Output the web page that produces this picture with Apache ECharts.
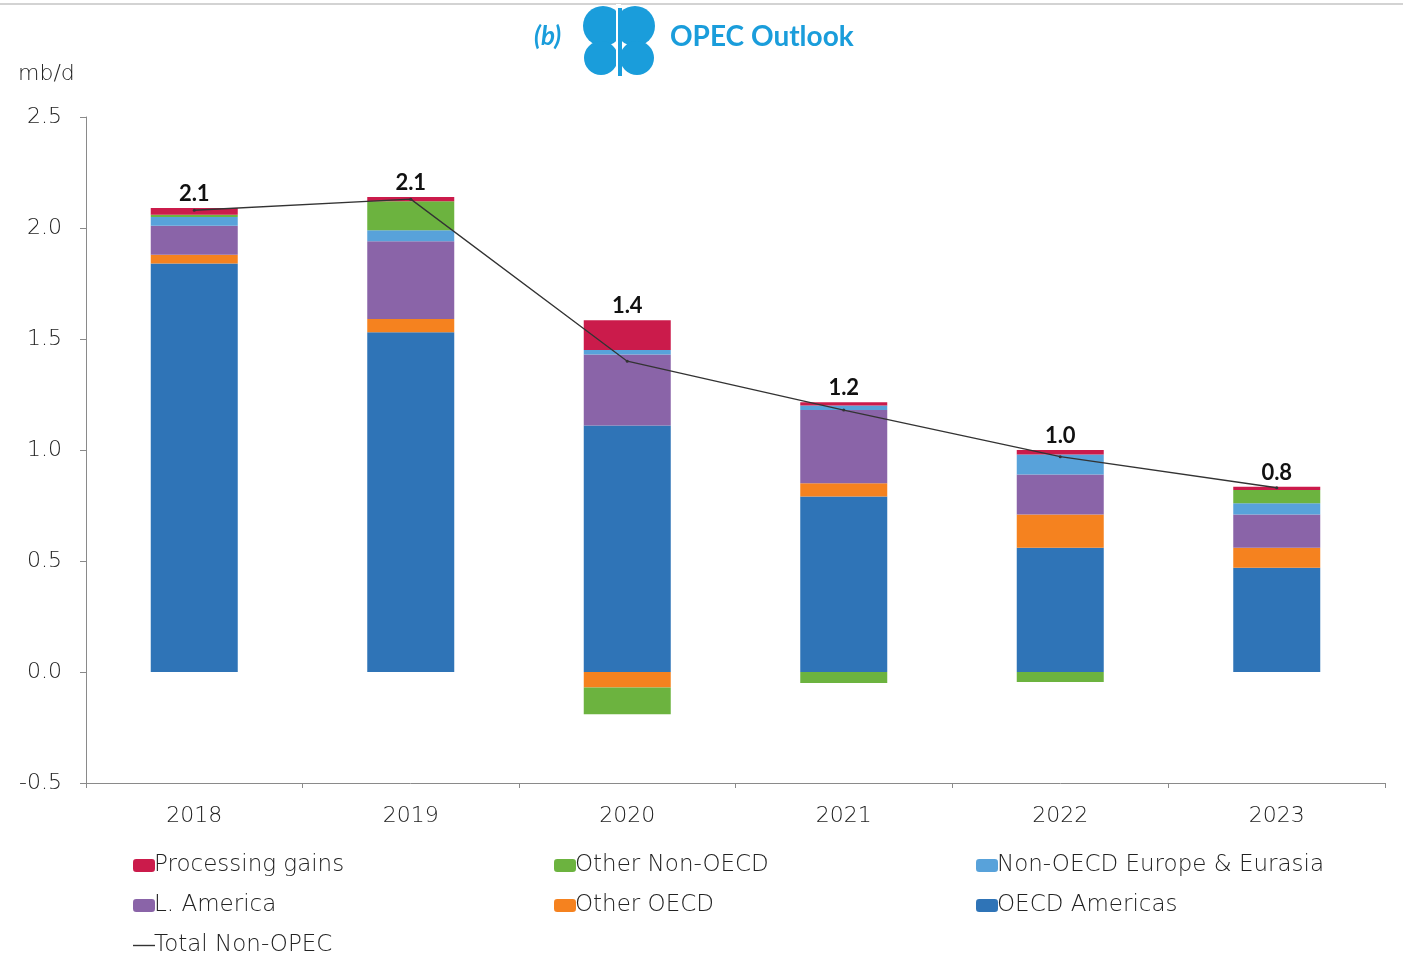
<!DOCTYPE html>
<html>
<head>
<meta charset="utf-8">
<script src="https://cdn.jsdelivr.net/npm/echarts@6/dist/echarts.min.js"></script>
<style>
  html, body { margin: 0; padding: 0; background: #fff; }
  #main { width: 1403px; height: 959px; }
</style>
</head>
<body>
<div id="main"></div>
<script>
// data (mb/d)
var years = ['2018', '2019', '2020', '2021', '2022', '2023'];
var oecdAmericas = [1.84, 1.53, 1.11, 0.79, 0.56, 0.47];
var otherOecd = [0.04, 0.06, -0.07, 0.06, 0.15, 0.09];
var lAmerica = [0.13, 0.35, 0.32, 0.33, 0.18, 0.15];
var nonOecdEurope = [0.04, 0.05, 0.02, 0.02, 0.09, 0.05];
var otherNonOecd = [0.01, 0.13, -0.12, -0.05, -0.045, 0.06];
var processingGains = [0.03, 0.02, 0.135, 0.015, 0.02, 0.015];
var totalNonOpec = [2.08, 2.13, 1.40, 1.18, 0.97, 0.83];

var yTicks = [-0.5, 0, 0.5, 1.0, 1.5, 2.0, 2.5];

var colors = {
  oecdAm: '#2f74b7',
  otherOecd: '#f5821f',
  lAm: '#8a64a8',
  nonOecdEu: '#58a2da',
  otherNonOecd: '#6cb33f',
  proc: '#cb1b4b'
};

var font = '"DejaVu Sans", sans-serif';
var labelFont = 'Lato, sans-serif';

function barSeries(name, data, color) {
  return {
    name: name,
    type: 'bar',
    stack: 'total',
    barWidth: 87,
    itemStyle: { color: color },
    data: data
  };
}

function legendAt(left, top, names) {
  return {
    left: left, top: top, orient: 'vertical', itemGap: 17,
    itemWidth: 22, itemHeight: 13,
    textStyle: { fontFamily: font, fontWeight: 200, fontSize: 23, color: '#222', padding: [0, 0, 0, -6] },
    data: names
  };
}

var myChart = echarts.init(document.getElementById('main'));
var procSeries = barSeries('Processing gains', processingGains, colors.proc);
procSeries.label = {
  show: true,
  position: 'top',
  distance: 3,
  color: '#111',
  fontFamily: labelFont,
  fontWeight: 'bold',
  fontSize: 22,
  formatter: function (p) { return totalNonOpec[p.dataIndex].toFixed(1); }
};

var option = {
  backgroundColor: '#fff',
  animation: false,
  grid: { left: 86, top: 117, width: 1299, height: 666 },
  legend: [
    legendAt(128, 849, ['Processing gains', 'L. America']),
    legendAt(128, 929, [{ name: 'Total Non-OPEC', icon: 'path://M0,6 L22,6 L22,7.4 L0,7.4 Z', itemStyle: { color: '#333' } }]),
    legendAt(549, 849, ['Other Non-OECD', 'Other OECD']),
    legendAt(971, 849, ['Non-OECD Europe & Eurasia', 'OECD Americas'])
  ],
  xAxis: {
    type: 'category',
    data: years,
    axisLine: { onZero: false, lineStyle: { color: '#8a8a8a' } },
    axisTick: { show: true, length: 5, lineStyle: { color: '#8a8a8a' } },
    axisLabel: { fontFamily: font, fontWeight: 200, fontSize: 22, color: '#222', margin: 22 }
  },
  yAxis: {
    type: 'value',
    min: yTicks[0],
    max: yTicks[yTicks.length - 1],
    interval: 0.5,
    splitLine: { show: false },
    axisLine: { show: true, lineStyle: { color: '#8a8a8a' } },
    axisTick: { show: true, length: 6, lineStyle: { color: '#8a8a8a' } },
    axisLabel: {
      fontFamily: font, fontWeight: 200, fontSize: 22, color: '#222', margin: 24,
      formatter: function (v) { return v.toFixed(1); }
    }
  },
  graphic: [
    { type: 'line', shape: { x1: 0, y1: 4, x2: 1403, y2: 4 }, style: { stroke: '#c4c4c4', lineWidth: 1.5 } },
    { type: 'text', left: 18, top: 63, style: { text: 'mb/d', fontFamily: font, fontWeight: 200, fontSize: 22, fill: '#222' } },
    { type: 'text', left: 534, top: 24, style: { text: '(b)', fontFamily: 'Lato, sans-serif', fontSize: 26, fontStyle: 'italic', fontWeight: 'bold', fill: '#1a9ddb' } },
    { type: 'circle', shape: { cx: 603, cy: 26, r: 20 }, style: { fill: '#1a9ddb' } },
    { type: 'circle', shape: { cx: 635, cy: 26, r: 20 }, style: { fill: '#1a9ddb' } },
    { type: 'circle', shape: { cx: 601, cy: 58, r: 17 }, style: { fill: '#1a9ddb' } },
    { type: 'circle', shape: { cx: 637, cy: 58, r: 17 }, style: { fill: '#1a9ddb' } },
    { type: 'rect', shape: { x: 616, y: 4, width: 5, height: 72 }, style: { fill: '#fff' } },
    { type: 'rect', shape: { x: 618, y: 8, width: 4, height: 68 }, style: { fill: '#1a9ddb' } },
    { type: 'text', left: 670, top: 23, style: { text: 'OPEC Outlook', fontFamily: 'Lato, sans-serif', fontSize: 28, fontWeight: 'bold', fill: '#1a9ddb' } }
  ],
  series: [
    barSeries('OECD Americas', oecdAmericas, colors.oecdAm),
    barSeries('Other OECD', otherOecd, colors.otherOecd),
    barSeries('L. America', lAmerica, colors.lAm),
    barSeries('Non-OECD Europe & Eurasia', nonOecdEurope, colors.nonOecdEu),
    barSeries('Other Non-OECD', otherNonOecd, colors.otherNonOecd),
    procSeries,
    {
      name: 'Total Non-OPEC',
      type: 'line',
      z: 5,
      data: totalNonOpec,
      symbol: 'circle',
      symbolSize: 3,
      itemStyle: { color: '#333' },
      lineStyle: { color: '#333', width: 1.3 }
    }
  ]
};

myChart.setOption(option);
window.onresize = function () {
  myChart.resize();
};
</script>
</body>
</html>
